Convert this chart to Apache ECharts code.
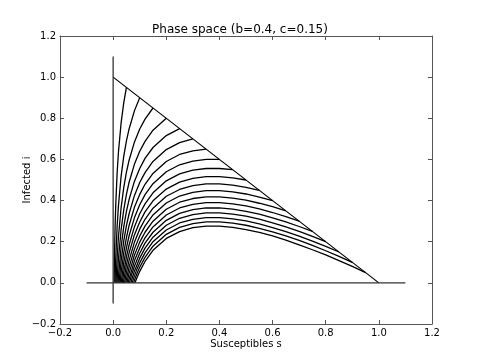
<!DOCTYPE html>
<html>
<head>
<meta charset="utf-8">
<script src="https://cdn.jsdelivr.net/npm/echarts@6/dist/echarts.min.js"></script>
<style>
  html, body { margin: 0; padding: 0; background: #fff; }
  #chart { width: 480px; height: 360px; }
</style>
</head>
<body>
<div id="chart"></div>
<script>
// trajectories [s, i], each starting on the line s + i = 1
var traj05 = [[0.0035, 0], [0.005, 0.132], [0.0075, 0.281], [0.01, 0.386], [0.015, 0.534], [0.02, 0.636], [0.03, 0.778], [0.04, 0.876], [0.05, 0.95]];
var traj10 = [[0.0071, 0], [0.0075, 0.021], [0.01, 0.127], [0.015, 0.274], [0.02, 0.376], [0.03, 0.519], [0.04, 0.616], [0.05, 0.690], [0.06, 0.748], [0.08, 0.836], [0.1, 0.9]];
var traj15 = [[0.0107, 0], [0.015, 0.122], [0.02, 0.224], [0.03, 0.366], [0.04, 0.464], [0.05, 0.538], [0.06, 0.596], [0.08, 0.684], [0.1, 0.748], [0.12, 0.796], [0.15, 0.85]];
var traj20 = [[0.0145, 0], [0.015, 0.014], [0.02, 0.117], [0.03, 0.259], [0.04, 0.356], [0.05, 0.430], [0.06, 0.489], [0.08, 0.576], [0.1, 0.640], [0.12, 0.688], [0.15, 0.742], [0.2, 0.8]];
var traj25 = [[0.0182, 0], [0.02, 0.033], [0.03, 0.175], [0.04, 0.273], [0.05, 0.347], [0.06, 0.405], [0.08, 0.493], [0.1, 0.556], [0.12, 0.605], [0.15, 0.658], [0.2, 0.716], [0.25, 0.75]];
var traj30 = [[0.0221, 0], [0.03, 0.107], [0.04, 0.204], [0.05, 0.278], [0.06, 0.336], [0.08, 0.424], [0.1, 0.488], [0.12, 0.536], [0.15, 0.590], [0.2, 0.648], [0.25, 0.682], [0.3, 0.7]];
var traj35 = [[0.0261, 0], [0.03, 0.049], [0.04, 0.147], [0.05, 0.220], [0.06, 0.279], [0.08, 0.367], [0.1, 0.430], [0.12, 0.479], [0.15, 0.532], [0.2, 0.590], [0.25, 0.624], [0.3, 0.642], [0.35, 0.65]];
var traj40 = [[0.0301, 0], [0.04, 0.097], [0.05, 0.170], [0.06, 0.229], [0.08, 0.316], [0.1, 0.380], [0.12, 0.429], [0.15, 0.482], [0.2, 0.540], [0.25, 0.574], [0.3, 0.592], [0.35, 0.600], [0.4, 0.6]];
var traj45 = [[0.0343, 0], [0.04, 0.052], [0.05, 0.126], [0.06, 0.184], [0.08, 0.272], [0.1, 0.336], [0.12, 0.384], [0.15, 0.438], [0.2, 0.496], [0.25, 0.530], [0.3, 0.548], [0.35, 0.556], [0.4, 0.556], [0.45, 0.55]];
var traj50 = [[0.0385, 0], [0.04, 0.013], [0.05, 0.087], [0.06, 0.145], [0.08, 0.233], [0.1, 0.296], [0.12, 0.345], [0.15, 0.399], [0.2, 0.456], [0.25, 0.490], [0.3, 0.508], [0.35, 0.516], [0.4, 0.516], [0.45, 0.510], [0.5, 0.5]];
var traj55 = [[0.0429, 0], [0.05, 0.051], [0.06, 0.109], [0.08, 0.197], [0.1, 0.261], [0.12, 0.309], [0.15, 0.363], [0.2, 0.421], [0.25, 0.454], [0.3, 0.473], [0.35, 0.481], [0.4, 0.481], [0.45, 0.475], [0.5, 0.464], [0.55, 0.45]];
var traj60 = [[0.0473, 0], [0.05, 0.018], [0.06, 0.077], [0.08, 0.164], [0.1, 0.228], [0.12, 0.276], [0.15, 0.330], [0.2, 0.388], [0.25, 0.422], [0.3, 0.440], [0.35, 0.448], [0.4, 0.448], [0.45, 0.442], [0.5, 0.432], [0.55, 0.417], [0.6, 0.4]];
var traj65 = [[0.0519, 0], [0.06, 0.047], [0.08, 0.134], [0.1, 0.198], [0.12, 0.246], [0.15, 0.300], [0.2, 0.358], [0.25, 0.392], [0.3, 0.410], [0.35, 0.418], [0.4, 0.418], [0.45, 0.412], [0.5, 0.402], [0.55, 0.387], [0.6, 0.370], [0.65, 0.35]];
var traj70 = [[0.0565, 0], [0.06, 0.019], [0.08, 0.107], [0.1, 0.170], [0.12, 0.219], [0.15, 0.272], [0.2, 0.330], [0.25, 0.364], [0.3, 0.382], [0.35, 0.390], [0.4, 0.390], [0.45, 0.384], [0.5, 0.374], [0.55, 0.360], [0.6, 0.342], [0.65, 0.322], [0.7, 0.3]];
var traj75 = [[0.0613, 0], [0.07, 0.041], [0.08, 0.081], [0.1, 0.144], [0.12, 0.193], [0.15, 0.246], [0.2, 0.304], [0.25, 0.338], [0.3, 0.356], [0.35, 0.364], [0.4, 0.364], [0.45, 0.358], [0.5, 0.348], [0.55, 0.334], [0.6, 0.316], [0.65, 0.296], [0.7, 0.274], [0.75, 0.25]];
var traj80 = [[0.0663, 0], [0.07, 0.016], [0.08, 0.057], [0.1, 0.120], [0.12, 0.169], [0.15, 0.222], [0.2, 0.280], [0.25, 0.314], [0.3, 0.332], [0.35, 0.340], [0.4, 0.340], [0.45, 0.334], [0.5, 0.324], [0.55, 0.310], [0.6, 0.292], [0.65, 0.272], [0.7, 0.250], [0.75, 0.226], [0.8, 0.2]];
var traj85 = [[0.0714, 0], [0.08, 0.034], [0.09, 0.068], [0.1, 0.097], [0.12, 0.146], [0.15, 0.200], [0.2, 0.257], [0.25, 0.291], [0.3, 0.309], [0.35, 0.317], [0.4, 0.317], [0.45, 0.311], [0.5, 0.301], [0.55, 0.287], [0.6, 0.269], [0.65, 0.249], [0.7, 0.227], [0.75, 0.203], [0.8, 0.177], [0.85, 0.15]];
var traj90 = [[0.0767, 0], [0.08, 0.012], [0.09, 0.047], [0.1, 0.076], [0.12, 0.124], [0.15, 0.178], [0.2, 0.236], [0.25, 0.270], [0.3, 0.288], [0.35, 0.296], [0.4, 0.296], [0.45, 0.290], [0.5, 0.280], [0.55, 0.265], [0.6, 0.248], [0.65, 0.228], [0.7, 0.206], [0.75, 0.182], [0.8, 0.156], [0.85, 0.129], [0.9, 0.1]];
var traj95 = [[0.0822, 0], [0.09, 0.026], [0.1, 0.056], [0.12, 0.104], [0.15, 0.158], [0.2, 0.216], [0.25, 0.249], [0.3, 0.268], [0.35, 0.276], [0.4, 0.276], [0.45, 0.270], [0.5, 0.259], [0.55, 0.245], [0.6, 0.228], [0.65, 0.208], [0.7, 0.185], [0.75, 0.161], [0.8, 0.136], [0.85, 0.108], [0.9, 0.080], [0.95, 0.05]];

var trajectories = [traj05, traj10, traj15, traj20, traj25, traj30, traj35, traj40, traj45, traj50,
                    traj55, traj60, traj65, traj70, traj75, traj80, traj85, traj90, traj95];

// s + i = 1 line and the two zero lines
var diagonal = [[0, 1], [1, 0]];
var hLine = [[-0.1, 0], [1.1, 0]];
var vLine = [[0, -0.1], [0, 1.1]];

var chartDom = document.getElementById('chart');
var myChart = echarts.init(chartDom);
var option;

function fmt(v) {
  return v.toFixed(1).replace('-', '\u2212');
}

var font = 'DejaVu Sans';
var frame = { show: true, onZero: false, lineStyle: { color: '#555', width: 1 } };
var tickIn = { show: true, inside: true, length: 4, lineStyle: { color: '#555', width: 1 } };

var series = [];
trajectories.forEach(function (t) {
  series.push({
    type: 'line', data: t, showSymbol: false,
    lineStyle: { color: '#000', width: 1.3 }, silent: true
  });
});
series.push({ type: 'line', data: diagonal, showSymbol: false, lineStyle: { color: '#000', width: 1.2 } });
series.push({ type: 'line', data: hLine, showSymbol: false, lineStyle: { color: '#333', width: 1.3 } });
series.push({ type: 'line', data: vLine, showSymbol: false, lineStyle: { color: '#333', width: 1.3 } });

option = {
  backgroundColor: '#fff',
  animation: false,
  title: {
    text: 'Phase space (b=0.4, c=0.15)',
    left: 'center',
    top: 19,
    textStyle: { fontFamily: font, fontSize: 12, fontWeight: 'normal', color: '#000' }
  },
  grid: { left: 60, top: 36, width: 372, height: 288 },
  xAxis: [
    {
      type: 'value', min: -0.2, max: 1.2, interval: 0.2, position: 'bottom',
      axisLine: frame, axisTick: tickIn, splitLine: { show: false },
      axisLabel: { formatter: fmt, margin: 4, fontFamily: font, fontSize: 10, color: '#000' },
      name: 'Susceptibles s', nameLocation: 'middle', nameGap: 15, nameMoveOverlap: false,
      nameTextStyle: { fontFamily: font, fontSize: 10, color: '#000' }
    },
    {
      type: 'value', min: -0.2, max: 1.2, interval: 0.2, position: 'top',
      axisLine: frame, axisTick: tickIn, splitLine: { show: false }, axisLabel: { show: false }
    }
  ],
  yAxis: [
    {
      type: 'value', min: -0.2, max: 1.2, interval: 0.2, position: 'left',
      axisLine: frame, axisTick: tickIn, splitLine: { show: false },
      axisLabel: { formatter: fmt, margin: 4, fontFamily: font, fontSize: 10, color: '#000' },
      name: 'Infected i', nameLocation: 'middle', nameGap: 28, nameRotate: 90, nameMoveOverlap: false,
      nameTextStyle: { fontFamily: font, fontSize: 10, color: '#000' }
    },
    {
      type: 'value', min: -0.2, max: 1.2, interval: 0.2, position: 'right',
      axisLine: frame, axisTick: tickIn, splitLine: { show: false }, axisLabel: { show: false }
    }
  ],
  series: series
};

option && myChart.setOption(option);
</script>
</body>
</html>
